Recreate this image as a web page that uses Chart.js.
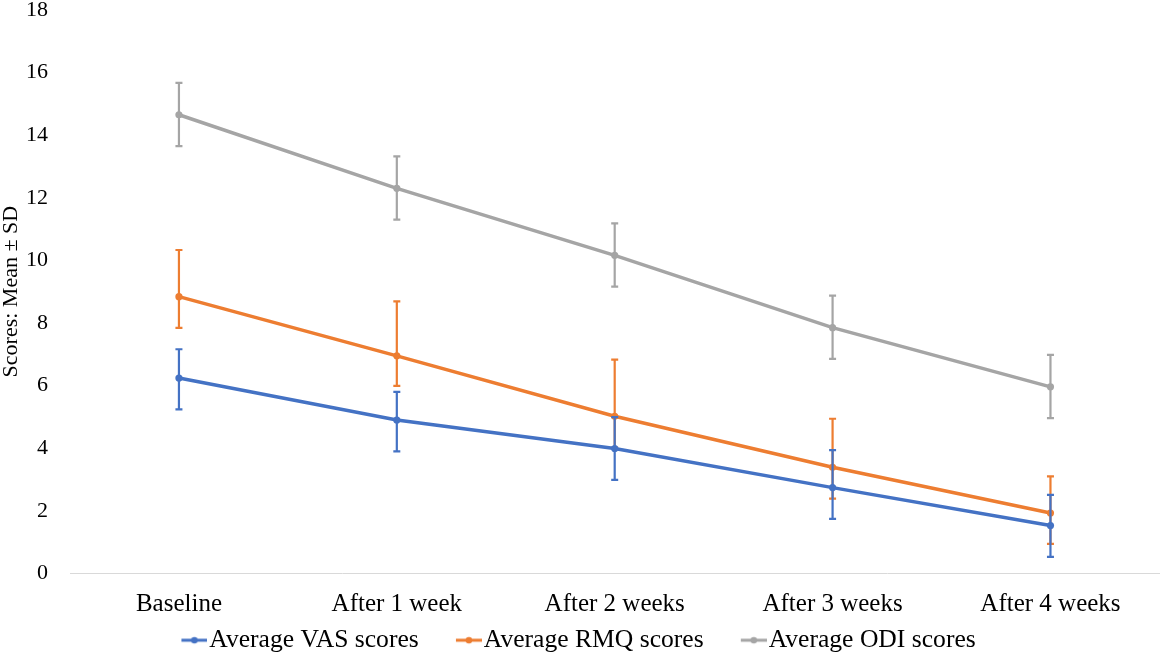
<!DOCTYPE html>
<html>
<head>
<meta charset="utf-8">
<script src="https://cdn.jsdelivr.net/npm/chart.js@4/dist/chart.umd.min.js"></script>
<style>
html,body{margin:0;padding:0;background:#fff;}
#wrap{width:1163px;height:654px;position:relative;}
</style>
</head>
<body>
<div id="wrap"><canvas id="c" width="1163" height="654"></canvas></div>
<script>
const categories = ["Baseline", "After 1 week", "After 2 weeks", "After 3 weeks", "After 4 weeks"];
const vasScores = [6.24, 4.90, 3.99, 2.74, 1.53];
const vasPlus   = [0.92, 0.90, 1.00, 1.20, 0.98];
const vasMinus  = [1.00, 1.00, 1.00, 1.00, 1.00];
const rmqScores = [8.84, 6.95, 5.02, 3.39, 1.93];
const rmqPlus   = [1.49, 1.74, 1.81, 1.55, 1.17];
const rmqMinus  = [1.00, 0.96, 1.00, 1.00, 0.99];
const odiScores = [14.65, 12.30, 10.16, 7.85, 5.96];
const odiPlus   = [1.02, 1.02, 1.02, 1.02, 1.02];
const odiMinus  = [1.00, 1.00, 1.00, 1.00, 1.00];
const yTicks = [0, 2, 4, 6, 8, 10, 12, 14, 16, 18];

const FONT = "'Liberation Serif', 'Times New Roman', serif";

// legend marker image: transparent left part, line+dot on the right part
function legendMarker(color){
  const cv = document.createElement('canvas');
  cv.width = 72; cv.height = 10;
  const g = cv.getContext('2d');
  g.strokeStyle = color; g.lineWidth = 3;
  g.beginPath(); g.moveTo(46,5); g.lineTo(72,5); g.stroke();
  g.fillStyle = color;
  g.beginPath(); g.arc(59,5,3.3,0,Math.PI*2); g.fill();
  return cv;
}

function mk(label, data, plus, minus, color){
  return {
    label, data,
    errPlus: plus, errMinus: minus,
    borderColor: color, backgroundColor: color,
    borderWidth: 3.5, pointRadius: 3.6, pointHoverRadius: 3.6,
    pointBackgroundColor: color, pointBorderColor: color, pointBorderWidth: 0,
    pointStyle: 'circle', tension: 0, fill: false,
    legendMarker: legendMarker(color)
  };
}

const errorBars = {
  id: 'errorBars',
  afterDatasetDraw(chart, args){
    const ds = chart.data.datasets[args.index];
    const meta = args.meta;
    const y = chart.scales.y;
    const ctx = chart.ctx;
    ctx.save();
    ctx.strokeStyle = ds.borderColor;
    ctx.lineWidth = 2.2;
    ds.data.forEach((v, i) => {
      const x = meta.data[i].x;
      const yt = y.getPixelForValue(v + ds.errPlus[i]);
      const yb = y.getPixelForValue(v - ds.errMinus[i]);
      ctx.beginPath();
      ctx.moveTo(x, yt); ctx.lineTo(x, yb);
      ctx.moveTo(x - 3.5, yt); ctx.lineTo(x + 3.5, yt);
      ctx.moveTo(x - 3.5, yb); ctx.lineTo(x + 3.5, yb);
      ctx.stroke();
    });
    ctx.restore();
  }
};

// shift legend horizontally to compensate for the transparent part of the markers
const legendShift = {
  id: 'legendShift',
  afterLayout(chart){
    if (chart.legend) { chart.legend.left -= 20; chart.legend.right -= 20; }
  }
};

Chart.defaults.font.family = FONT;
Chart.defaults.color = '#000';

new Chart(document.getElementById('c'), {
  type: 'line',
  data: {
    labels: categories,
    datasets: [
      mk('Average VAS scores', vasScores, vasPlus, vasMinus, '#4472C4'),
      mk('Average RMQ scores', rmqScores, rmqPlus, rmqMinus, '#ED7D31'),
      mk('Average ODI scores', odiScores, odiPlus, odiMinus, '#A5A5A5')
    ]
  },
  plugins: [errorBars, legendShift],
  options: {
    responsive: false,
    animation: false,
    devicePixelRatio: 1,
    layout: { padding: { left: 0, right: 1, top: 0, bottom: -9 } },
    plugins: {
      tooltip: { enabled: false },
      legend: {
        position: 'bottom',
        labels: {
          font: { size: 25.6, family: FONT },
          color: '#000',
          usePointStyle: true,
          pointStyleWidth: 50.25,
          boxHeight: 10,
          padding: 2,
          generateLabels(chart){
            return chart.data.datasets.map((d, i) => ({
              text: d.label,
              pointStyle: d.legendMarker,
              fillStyle: d.borderColor,
              strokeStyle: d.borderColor,
              lineWidth: 0,
              hidden: false,
              datasetIndex: i,
              fontColor: '#000'
            }));
          }
        }
      }
    },
    scales: {
      x: {
        offset: true,
        grid: { display: false },
        border: { display: true, color: '#d9d9d9', width: 1 },
        ticks: { font: { size: 25, family: FONT }, color: '#000', padding: 8, maxRotation: 0 },
        afterFit(s){ s.height = 52; }
      },
      y: {
        min: 0, max: 18,
        afterBuildTicks(s){ s.ticks = yTicks.map(v => ({ value: v })); },
        afterFit(s){ s.width = 70; },
        grid: { display: true, drawOnChartArea: false, drawTicks: true, tickLength: 22, color: 'rgba(0,0,0,0)' },
        border: { display: false },
        ticks: { font: { size: 22, family: FONT, lineHeight: 0.9 }, color: '#000', padding: 0 },
        title: {
          display: true, text: 'Scores: Mean ± SD',
          font: { size: 22, family: FONT, lineHeight: 1.0 }, color: '#000',
          padding: { top: 0, bottom: 0 }
        }
      }
    }
  }
});
</script>
</body>
</html>
